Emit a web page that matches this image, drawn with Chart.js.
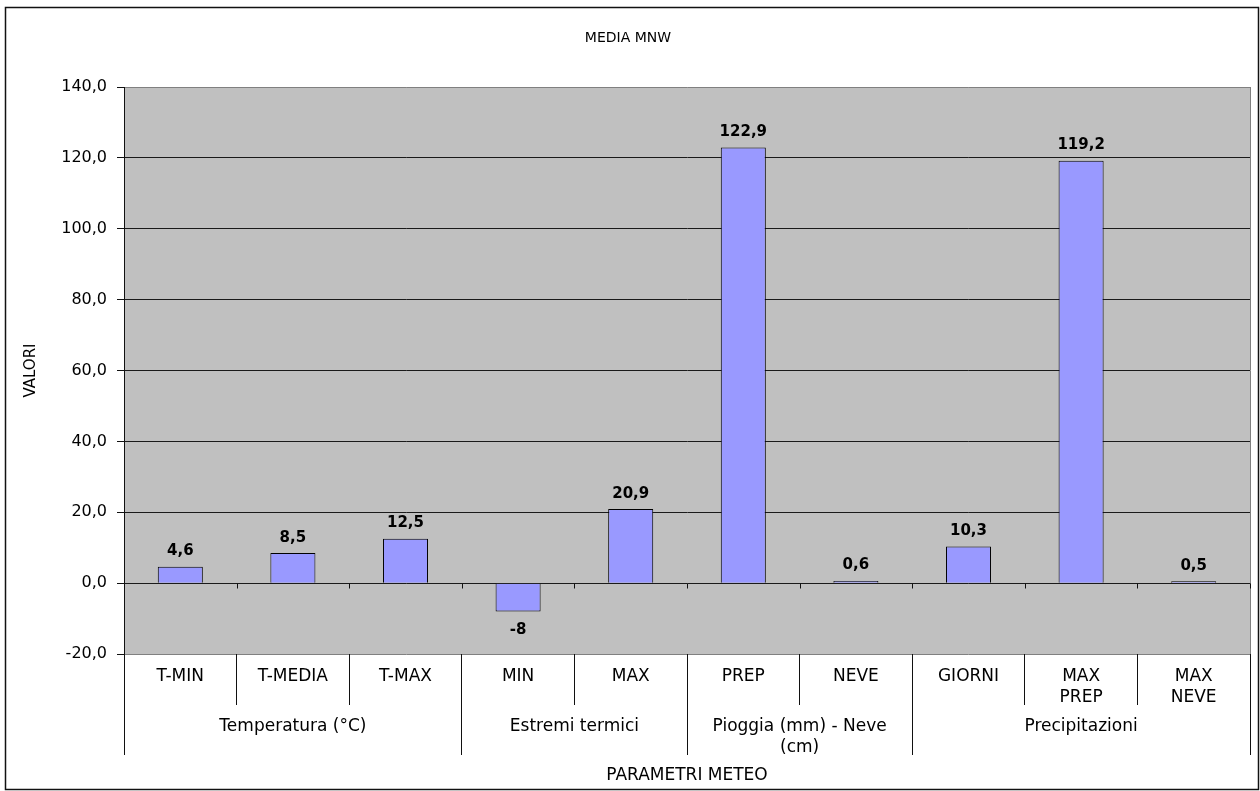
<!DOCTYPE html>
<html>
<head>
<meta charset="utf-8">
<script src="https://cdn.jsdelivr.net/npm/chart.js@4/dist/chart.umd.min.js"></script>
<style>
  html, body { margin: 0; padding: 0; background: #fff; }
  #wrap { width: 1260px; height: 791px; position: relative; }
</style>
</head>
<body>
<div id="wrap"><canvas id="c" width="1260" height="791"></canvas></div>
<script>
// ---- data ----
const chartTitle = 'MEDIA MNW';
const yTitle = 'VALORI';
const xTitle = 'PARAMETRI METEO';
const categories = ['T-MIN', 'T-MEDIA', 'T-MAX', 'MIN', 'MAX', 'PREP', 'NEVE', 'GIORNI', ['MAX', 'PREP'], ['MAX', 'NEVE']];
const values = [4.6, 8.5, 12.5, -8, 20.9, 122.9, 0.6, 10.3, 119.2, 0.5];
const groupLabels = ['Temperatura (°C)', 'Estremi termici', ['Pioggia (mm) - Neve', '(cm)'], 'Precipitazioni'];
const groupSizes = [3, 2, 2, 3];
const yMin = -20, yMax = 140, yStep = 20;

// group boundaries and centers (in category units)
const groupBounds = [0];
groupSizes.forEach(s => groupBounds.push(groupBounds[groupBounds.length - 1] + s));
const groupCenters = groupSizes.map((s, i) => groupBounds[i] + s / 2);

const FONT = "'DejaVu Sans', 'Liberation Sans', Arial, sans-serif";

function fmt(v) {
  return Number.isInteger(v) ? String(v) : String(v).replace('.', ',');
}

const bgPlugin = {
  id: 'bgPlugin',
  beforeDraw(chart) {
    const { ctx, chartArea: a } = chart;
    ctx.save();
    ctx.fillStyle = '#ffffff';
    ctx.fillRect(0, 0, chart.width, chart.height);
    // outer chart border
    ctx.strokeStyle = '#111';
    ctx.lineWidth = 1.5;
    ctx.strokeRect(5.5, 7.5, 1253, 782);
    // plot area
    ctx.fillStyle = '#C0C0C0';
    ctx.fillRect(a.left, a.top, a.right - a.left, a.bottom - a.top);
    ctx.strokeStyle = '#808080';
    ctx.lineWidth = 1;
    ctx.beginPath();
    ctx.moveTo(Math.round(a.right) + 0.5, a.top);
    ctx.lineTo(Math.round(a.right) + 0.5, a.bottom);
    ctx.stroke();
    ctx.restore();
  },
  afterDatasetsDraw(chart) {
    const { ctx } = chart;
    const xs = chart.scales.x, ys = chart.scales.y;
    const y0 = Math.round(ys.getPixelForValue(0)) + 0.5;
    ctx.save();
    // small tick marks on the zero line at category boundaries
    ctx.strokeStyle = '#111';
    ctx.lineWidth = 1;
    ctx.beginPath();
    for (let i = 1; i <= categories.length; i++) {
      const px = i < categories.length
        ? (xs.getPixelForValue(i - 1) + xs.getPixelForValue(i)) / 2
        : xs.right;
      const xx = Math.round(px) + 0.5;
      ctx.moveTo(xx, y0);
      ctx.lineTo(xx, y0 + 5);
    }
    ctx.stroke();
    // data labels
    const meta = chart.getDatasetMeta(0);
    ctx.fillStyle = '#000';
    ctx.font = 'bold 15px ' + FONT;
    ctx.textAlign = 'center';
    ctx.textBaseline = 'alphabetic';
    meta.data.forEach((bar, i) => {
      const v = values[i];
      if (v >= 0) {
        ctx.fillText(fmt(v), bar.x, bar.y - 11.5);
      } else {
        ctx.fillText(fmt(v), bar.x, bar.y + 22.5);
      }
    });
    ctx.restore();
  }
};

new Chart(document.getElementById('c'), {
  type: 'bar',
  data: {
    labels: categories,
    datasets: [{
      data: values,
      backgroundColor: '#9999FF',
      borderColor: '#000',
      borderWidth: 1,
      barPercentage: 0.4,
      categoryPercentage: 1.0
    }]
  },
  options: {
    responsive: false,
    animation: false,
    devicePixelRatio: 1,
    layout: { padding: { left: 6, right: 10, top: 0, bottom: 0 } },
    plugins: {
      legend: { display: false },
      tooltip: { enabled: false },
      title: {
        display: true,
        text: chartTitle,
        color: '#000',
        font: { family: FONT, size: 14, weight: 'normal' },
        padding: { top: 29.6, bottom: 40.6 }
      }
    },
    scales: {
      y: {
        min: yMin,
        max: yMax,
        afterFit(s) { s.width = 118; },
        ticks: {
          stepSize: yStep,
          color: '#000',
          font: { family: FONT, size: 16 },
          padding: 10,
          callback: v => v.toFixed(1).replace('.', ',')
        },
        grid: {
          color: c => (c.tick && (c.tick.value === yMax || c.tick.value === yMin)) ? '#808080' : '#1a1a1a',
          tickColor: '#111',
          tickLength: 7,
          lineWidth: 1
        },
        border: { display: true, color: '#111', width: 1 },
        title: {
          display: true,
          text: yTitle,
          color: '#000',
          font: { family: FONT, size: 15 },
          padding: { top: 16, bottom: 0 }
        }
      },
      x: {
        position: 'bottom',
        weight: 1,
        offset: true,
        afterFit(s) { s.height = 51; },
        ticks: {
          color: '#000',
          font: { family: FONT, size: 17 },
          padding: -38.5,
          maxRotation: 0,
          minRotation: 0,
          autoSkip: false
        },
        grid: {
          offset: true,
          drawOnChartArea: false,
          drawTicks: true,
          tickLength: 51,
          color: '#111',
          lineWidth: 1
        },
        border: { display: false }
      },
      x2: {
        type: 'linear',
        position: 'bottom',
        weight: 2,
        offset: false,
        min: 0,
        max: categories.length,
        afterFit(s) { s.height = 86; },
        afterBuildTicks(s) {
          const vals = groupBounds.concat(groupCenters).sort((a, b) => a - b);
          s.ticks = vals.map(v => ({ value: v }));
        },
        ticks: {
          color: '#000',
          font: { family: FONT, size: 17 },
          padding: -38.5,
          maxRotation: 0,
          minRotation: 0,
          autoSkip: false,
          callback: v => {
            const gi = groupCenters.indexOf(v);
            return gi >= 0 ? groupLabels[gi] : '';
          }
        },
        grid: {
          offset: false,
          drawOnChartArea: false,
          drawTicks: true,
          tickLength: 50,
          color: c => (c.tick && groupBounds.includes(c.tick.value)) ? '#111' : 'rgba(0,0,0,0)',
          lineWidth: 1
        },
        border: { display: false },
        title: {
          display: true,
          text: xTitle,
          color: '#000',
          font: { family: FONT, size: 17 },
          padding: { top: 0, bottom: 4.8 }
        }
      }
    }
  },
  plugins: [bgPlugin]
});
</script>
</body>
</html>
